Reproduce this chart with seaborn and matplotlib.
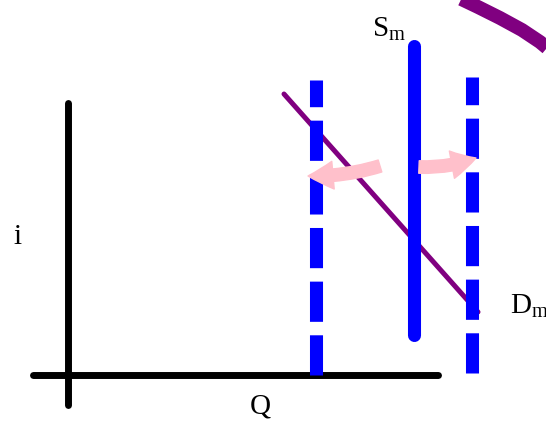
import seaborn as sb
import matplotlib.pyplot as plt
import pandas as pd
import numpy as np

sb.set_style("white")
plt.rcParams["font.family"] = ["Liberation Serif", "DejaVu Serif"]
plt.rcParams["mathtext.fontset"] = "custom"
plt.rcParams["mathtext.rm"] = "Liberation Serif"
plt.rcParams["text.color"] = "black"

# diagram lines (pixel-like coordinates, y grows downwards)
axis_y_x = [68, 68]
axis_y_y = [103, 405]
axis_x_x = [33, 438]
axis_x_y = [375, 375]

sm_x = [414, 414]
sm_y = [46, 335]

sm_left_x = [316, 316]
sm_left_y = [375, 80]
sm_right_x = [472, 472]
sm_right_y = [373, 77]

dm_x = [284, 478]
dm_y = [94, 312]

# old demand curve leaving the top right corner
curve_x = [455, 478, 500, 522, 540, 552]
curve_y = [-4, 7, 18, 30, 42, 52]

# shift arrows (tail -> tip)
arrow_left = [(380, 166), (308, 176)]
arrow_right = [(419, 167), (476, 158)]

fig = plt.figure(figsize=(5.46, 4.26), dpi=100)
ax = fig.add_axes([0, 0, 1, 1])
ax.set_xlim(0, 546)
ax.set_ylim(426, 0)
ax.axis("off")

def line(x, y, color, lw, **kw):
    df = pd.DataFrame({"x": x, "y": y})
    sb.lineplot(data=df, x="x", y="y", sort=False, estimator=None, ax=ax,
                color=color, linewidth=lw, **kw)

line(axis_y_x, axis_y_y, "black", 5, solid_capstyle="round", zorder=2)
line(axis_x_x, axis_x_y, "black", 5, solid_capstyle="round", zorder=2)
line(dm_x, dm_y, "#800080", 3.6, solid_capstyle="round", zorder=3)
line(curve_x, curve_y, "#800080", 10, solid_capstyle="butt", zorder=3)
line(sm_x, sm_y, "#0000ff", 9.4, solid_capstyle="round", zorder=4)
dash = (0, (3.08, 1.03))
line(sm_left_x, sm_left_y, "#0000ff", 9.4, linestyle=dash, zorder=4)
line(sm_right_x, sm_right_y, "#0000ff", 9.4, linestyle=dash, zorder=4)

for (tail, tip), rad in [(arrow_left, -0.08), (arrow_right, 0.1)]:
    ax.annotate("", xy=tip, xytext=tail, zorder=5,
                arrowprops=dict(arrowstyle="simple,head_length=1.8,head_width=2.0,tail_width=0.9",
                                connectionstyle=f"arc3,rad={rad}", color="#ffc0cb",
                                mutation_scale=10, shrinkA=0, shrinkB=0))

ax.text(18, 237, "i", fontsize=21, ha="center", va="center", color="black")
ax.text(260, 407, "Q", fontsize=21, ha="center", va="center", color="black")
ax.text(372, 37, r"$\mathrm{S_m}$", fontsize=21, ha="left", va="baseline", color="black")
ax.text(510, 314, r"$\mathrm{D_m}$", fontsize=21, ha="left", va="baseline", color="black")

fig.savefig("out.png", dpi=100)
